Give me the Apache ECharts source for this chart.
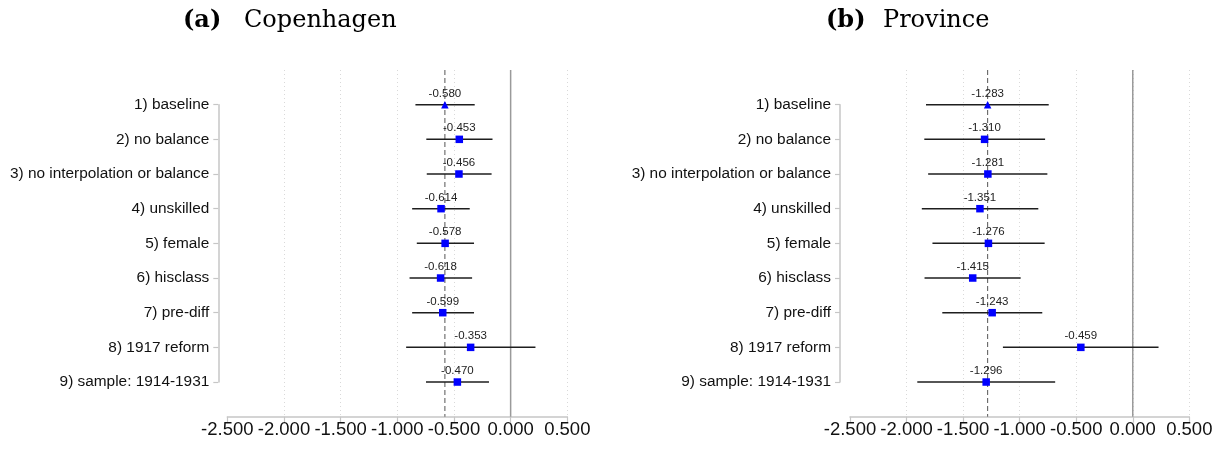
<!DOCTYPE html>
<html>
<head>
<meta charset="utf-8">
<script src="https://cdn.jsdelivr.net/npm/echarts@6/dist/echarts.min.js"></script>
<style>
  html, body { margin: 0; padding: 0; background: #ffffff; }
  #chart { width: 1226px; height: 451px; }
</style>
</head>
<body>
<div id="chart"></div>
<script>
// Robustness checks of the estimated effect, two samples
const categories = [
  '1) baseline',
  '2) no balance',
  '3) no interpolation or balance',
  '4) unskilled',
  '5) female',
  '6) hisclass',
  '7) pre-diff',
  '8) 1917 reform',
  '9) sample: 1914-1931'
];

// Copenhagen: point estimates and confidence bounds
const cphEst = [-0.580, -0.453, -0.456, -0.614, -0.578, -0.618, -0.599, -0.353, -0.470];
const cphLo  = [-0.840, -0.744, -0.740, -0.869, -0.828, -0.892, -0.869, -0.922, -0.747];
const cphHi  = [-0.317, -0.160, -0.168, -0.361, -0.323, -0.340, -0.323,  0.219, -0.191];

// Province: point estimates and confidence bounds
const provEst = [-1.283, -1.310, -1.281, -1.351, -1.276, -1.415, -1.243, -0.459, -1.296];
const provLo  = [-1.828, -1.843, -1.809, -1.865, -1.771, -1.841, -1.684, -1.148, -1.905];
const provHi  = [-0.743, -0.775, -0.755, -0.835, -0.779, -0.991, -0.800,  0.228, -0.686];

// x-axis scale
const xMin = -2.5;
const xMax = 0.5;
const xStep = 0.5;

const W = 1226, H = 451;
const plotTop = 70;
const plotBottom = 34.3;
const rowStep = (H - plotTop - plotBottom) / (categories.length + 1);

const sans = 'Liberation Sans, Arial, sans-serif';
const serif = 'DejaVu Serif, serif';
const axisGray = '#c6c6c6';

const panels = [
  { tag: '(a)', name: 'Copenhagen', est: cphEst, lo: cphLo, hi: cphHi,
    left: 227.3, right: W - 567.3, tagX: 183, nameX: 244, yOffset: 9 },
  { tag: '(b)', name: 'Province', est: provEst, lo: provLo, hi: provHi,
    left: 850, right: W - 1189.3, tagX: 826, nameX: 883, yOffset: 10 }
];

const option = {
  animation: false,
  backgroundColor: '#ffffff',
  title: [], grid: [], xAxis: [], yAxis: [], series: []
};

panels.forEach((p, i) => {
  const gFrame = i * 2, gRows = i * 2 + 1;

  option.title.push(
    { text: p.tag, left: p.tagX, top: 9, padding: 0,
      textStyle: { fontFamily: serif, fontSize: 24, fontWeight: 'bold', color: '#000' } },
    { text: p.name, left: p.nameX, top: 9, padding: 0,
      textStyle: { fontFamily: serif, fontSize: 24, fontWeight: 'normal', color: '#000' } }
  );

  // frame grid: full plot height, holds the x axis and reference lines
  option.grid.push({ left: p.left, right: p.right, top: plotTop, bottom: plotBottom });
  // row grid: spans first to last category
  option.grid.push({ left: p.left, right: p.right, top: plotTop + rowStep, bottom: plotBottom + rowStep });

  option.xAxis.push({
    gridIndex: gFrame, type: 'value', position: 'bottom',
    min: xMin, max: xMax, interval: xStep,
    axisLine: { show: true, onZero: false, lineStyle: { color: axisGray, width: 1.5 } },
    axisTick: { show: true, length: 6, lineStyle: { color: axisGray, width: 1.2 } },
    axisLabel: {
      show: true, fontFamily: sans, fontSize: 18.5, color: '#111', margin: 4,
      showMinLabel: true, showMaxLabel: true,
      formatter: v => v.toFixed(3)
    },
    splitLine: { show: true, showMinLine: false,
      lineStyle: { color: '#d9d9d9', width: 1, type: [1, 3] } }
  });
  option.xAxis.push({
    gridIndex: gRows, type: 'value', min: xMin, max: xMax, interval: xStep, show: false
  });

  option.yAxis.push({
    gridIndex: gFrame, type: 'value', min: 0, max: categories.length + 1, inverse: true, show: false
  });
  option.yAxis.push({
    gridIndex: gRows, type: 'category', position: 'left', data: categories,
    inverse: true, boundaryGap: false, offset: p.yOffset,
    axisLine: { show: true, onZero: false, lineStyle: { color: axisGray, width: 1.5 } },
    axisTick: { show: true, length: 5, lineStyle: { color: axisGray, width: 1.2 } },
    axisLabel: { fontFamily: sans, fontSize: 15.4, color: '#111', margin: 9 },
    splitLine: { show: false }
  });

  // zero line and baseline reference line across the full plot height
  const refLines = [
    { value: [0] },
    { value: [p.est[0]] }
  ];
  option.series.push({
    type: 'custom', xAxisIndex: gFrame, yAxisIndex: gFrame, silent: true, z: 1,
    data: refLines,
    renderItem: (params, api) => {
      const x = api.value(0);
      const a = api.coord([x, 0]);
      const b = api.coord([x, categories.length + 1]);
      const zero = params.dataIndex === 0;
      return {
        type: 'line',
        shape: { x1: a[0], y1: a[1], x2: b[0], y2: b[1] },
        style: zero
          ? { stroke: '#9a9a9a', lineWidth: 1.5 }
          : { stroke: '#555555', lineWidth: 1, lineDash: [5, 3] }
      };
    }
  });

  // confidence intervals
  option.series.push({
    type: 'custom', xAxisIndex: gRows, yAxisIndex: gRows, silent: true, z: 2,
    data: p.lo.map((lo, k) => [lo, p.hi[k], k]),
    encode: { x: [0, 1], y: 2 },
    renderItem: (params, api) => {
      const a = api.coord([api.value(0), api.value(2)]);
      const b = api.coord([api.value(1), api.value(2)]);
      return {
        type: 'line',
        shape: { x1: a[0], y1: a[1], x2: b[0], y2: b[1] },
        style: { stroke: '#1e1e1e', lineWidth: 1.5 }
      };
    }
  });

  // point estimates with value labels
  option.series.push({
    type: 'scatter', xAxisIndex: gRows, yAxisIndex: gRows, silent: true, z: 3,
    data: p.est.map((v, k) => [v, k]),
    symbol: (val, params) => (params.dataIndex === 0 ? 'triangle' : 'rect'),
    symbolSize: 7.5,
    itemStyle: { color: '#0000ff', opacity: 1 },
    label: {
      show: true, position: 'top', distance: 1.5,
      fontFamily: sans, fontSize: 11.5, color: '#222',
      formatter: prm => prm.value[0].toFixed(3)
    }
  });
});

const chart = echarts.init(document.getElementById('chart'), null, { renderer: 'canvas' });
chart.setOption(option);
</script>
</body>
</html>
